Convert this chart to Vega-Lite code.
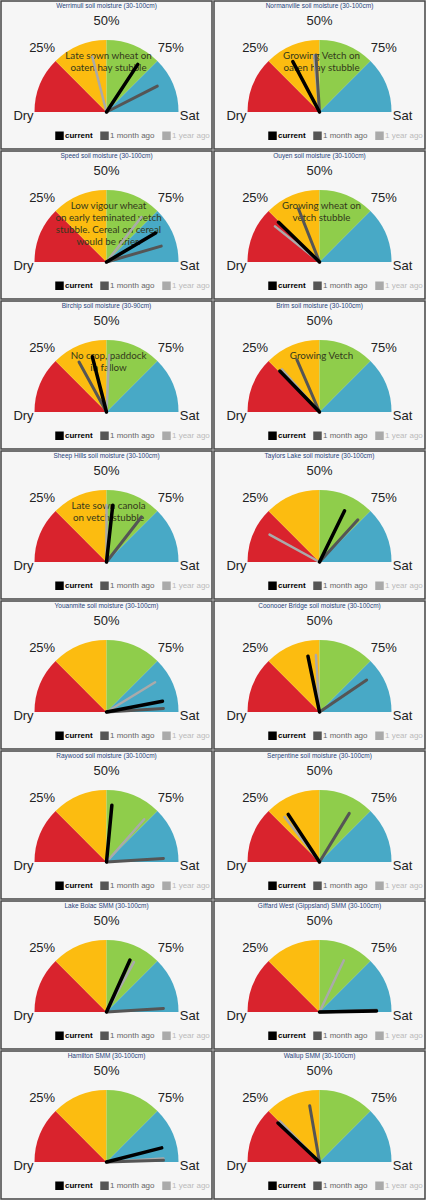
{
  "$schema": "https://vega.github.io/schema/vega-lite/v6.json",
  "padding": 0,
  "background": "white",
  "config": {
    "view": {"stroke": "#444", "strokeWidth": 1.5, "fill": "#f6f6f6"},
    "font": "Liberation Sans"
  },
  "datasets": {
    "zones": [
      {"zone": "dry", "from": 0, "to": 25},
      {"zone": "low", "from": 25, "to": 50},
      {"zone": "high", "from": 50, "to": 75},
      {"zone": "wet", "from": 75, "to": 100}
    ],
    "labels": [
      {"p": 0, "t": "Dry"},
      {"p": 25, "t": "25%"},
      {"p": 50, "t": "50%"},
      {"p": 75, "t": "75%"},
      {"p": 100, "t": "Sat"}
    ],
    "needles": [
      {"kind": "1 year ago", "Werrimull": 42, "Normanville": 47, "Speed": 71, "Ouyen": 21.5, "Birchip": 51.5, "Brim": 27, "Sheep Hills": 50, "Taylors Lake": 16, "Youanmite": 82.5, "Coonooer Bridge": 48, "Raywood": 73, "Serpentine": 29, "Lake Bolac": 66, "Giffard West": 64, "Hamilton": 98, "Wallup": 25.5},
      {"kind": "1 month ago", "Werrimull": 85, "Normanville": 48, "Speed": 91, "Ouyen": 38, "Birchip": 34, "Brim": 37, "Sheep Hills": 71, "Taylors Lake": 73.5, "Youanmite": 98, "Coonooer Bridge": 81, "Raywood": 98, "Serpentine": 67.5, "Lake Bolac": 98, "Giffard West": 99, "Hamilton": 99, "Wallup": 44.5},
      {"kind": "current", "Werrimull": 68.5, "Normanville": 34.5, "Speed": 83, "Ouyen": 24.5, "Birchip": 42, "Brim": 25.5, "Sheep Hills": 53.5, "Taylors Lake": 64.5, "Youanmite": 94, "Coonooer Bridge": 43.5, "Raywood": 53, "Serpentine": 31.5, "Lake Bolac": 63.5, "Giffard West": 99.5, "Hamilton": 92, "Wallup": 24}
    ],
    "info": [
      {"part": "title", "Werrimull": "Werrimull soil moisture (30-100cm)", "Normanville": "Normanville soil moisture (30-100cm)", "Speed": "Speed soil moisture (30-100cm)", "Ouyen": "Ouyen soil moisture (30-100cm)", "Birchip": "Birchip soil moisture (30-90cm)", "Brim": "Brim soil moisture (30-100cm)", "Sheep Hills": "Sheep Hills soil moisture (30-100cm)", "Taylors Lake": "Taylors Lake soil moisture (30-100cm)", "Youanmite": "Youanmite soil moisture (30-100cm)", "Coonooer Bridge": "Coonooer Bridge soil moisture (30-100cm)", "Raywood": "Raywood soil moisture (30-100cm)", "Serpentine": "Serpentine soil moisture (30-100cm)", "Lake Bolac": "Lake Bolac SMM (30-100cm)", "Giffard West": "Giffard West (Gippsland) SMM (30-100cm)", "Hamilton": "Hamilton SMM (30-100cm)", "Wallup": "Wallup SMM (30-100cm)"},
      {"part": "note", "Werrimull": "Late sown wheat on\noaten hay stubble", "Normanville": "Growing Vetch on\noaten hay stubble", "Speed": "Low vigour wheat\non early teminated vetch\nstubble. Cereal on cereal\nwould be drier.", "Ouyen": "Growing wheat on\nvetch stubble", "Birchip": "No crop, paddock\nin fallow", "Brim": "Growing Vetch", "Sheep Hills": "Late sown canola\non vetch stubble", "Taylors Lake": "", "Youanmite": "", "Coonooer Bridge": "", "Raywood": "", "Serpentine": "", "Lake Bolac": "", "Giffard West": "", "Hamilton": "", "Wallup": ""}
    ]
  },
  "repeat": ["Werrimull", "Normanville", "Speed", "Ouyen", "Birchip", "Brim", "Sheep Hills", "Taylors Lake", "Youanmite", "Coonooer Bridge", "Raywood", "Serpentine", "Lake Bolac", "Giffard West", "Hamilton", "Wallup"],
  "columns": 2,
  "spacing": 0,
  "spec": {
    "width": 211,
    "height": 148,
    "layer": [
      {
        "data": {"name": "zones"},
        "mark": {"type": "arc", "outerRadius": 72},
        "encoding": {
          "y": {"datum": 0, "type": "quantitative", "scale": {"domain": [-0.5, 1.5], "nice": false}, "axis": null},
          "theta": {"field": "from", "type": "quantitative", "stack": null, "scale": {"domain": [0, 100], "range": [-1.5708, 1.5708]}},
          "theta2": {"field": "to"},
          "color": {"field": "zone", "type": "nominal", "legend": null,
            "scale": {"domain": ["dry", "low", "high", "wet"], "range": ["#d9232d", "#fcbc10", "#8fcd4b", "#48a9c6"]}}
        }
      },
      {
        "data": {"name": "labels"},
        "transform": [{"filter": "datum.p > 0 && datum.p < 100"}],
        "mark": {"type": "text", "radius": 91, "fontSize": 13, "color": "#222"},
        "encoding": {
          "y": {"datum": 0, "type": "quantitative"},
          "theta": {"field": "p", "type": "quantitative"},
          "text": {"field": "t"}
        }
      },
      {
        "data": {"name": "labels"},
        "transform": [{"filter": "datum.p == 0 || datum.p == 100"}],
        "mark": {"type": "text", "radius": 83, "dy": 4, "fontSize": 13, "color": "#222"},
        "encoding": {
          "y": {"datum": 0, "type": "quantitative"},
          "theta": {"field": "p", "type": "quantitative"},
          "text": {"field": "t"}
        }
      },
      {
        "data": {"name": "info"},
        "transform": [{"filter": "datum.part == 'title'"}],
        "mark": {"type": "text", "fontSize": 6.5, "color": "#27437a", "baseline": "top"},
        "encoding": {
          "y": {"datum": 1.47, "type": "quantitative"},
          "text": {"field": {"repeat": "repeat"}}
        }
      },
      {
        "data": {"name": "info"},
        "transform": [{"filter": "datum.part == 'note'"}],
        "mark": {"type": "text", "font": "Lato", "fontSize": 9.8, "color": "#33391c", "baseline": "top", "lineBreak": "\n", "lineHeight": 12, "dx": 2},
        "encoding": {
          "y": {"datum": 0.82, "type": "quantitative"},
          "text": {"field": {"repeat": "repeat"}}
        }
      },
      {
        "data": {"name": "needles"},
        "mark": {"type": "arc", "outerRadius": 57, "strokeJoin": "round", "strokeCap": "round"},
        "encoding": {
          "y": {"datum": 0, "type": "quantitative"},
          "theta": {"field": {"repeat": "repeat"}, "type": "quantitative", "stack": null},
          "theta2": {"field": {"repeat": "repeat"}},
          "strokeWidth": {"field": "kind", "type": "nominal", "legend": null,
            "scale": {"domain": ["current", "1 month ago", "1 year ago"], "range": [3.5, 2.5, 2.5]}},
          "stroke": {"field": "kind", "type": "nominal",
            "scale": {"domain": ["current", "1 month ago", "1 year ago"], "range": ["#000000", "#555555", "#aaaaaa"]},
            "legend": {"orient": "bottom-right", "direction": "horizontal", "title": null, "offset": 2, "padding": 0,
              "symbolType": "square", "symbolSize": 16, "symbolStrokeWidth": 4.5, "labelFontSize": 8,
              "labelOffset": 1, "columnPadding": 0,
              "labelColor": {"expr": "datum.label == 'current' ? '#000' : datum.label == '1 month ago' ? '#666' : '#bbb'"},
              "labelFontWeight": {"expr": "datum.label == 'current' ? 'bold' : 'normal'"}}}
        }
      }
    ]
  },
  "resolve": {"legend": {"stroke": "independent"}}
}
